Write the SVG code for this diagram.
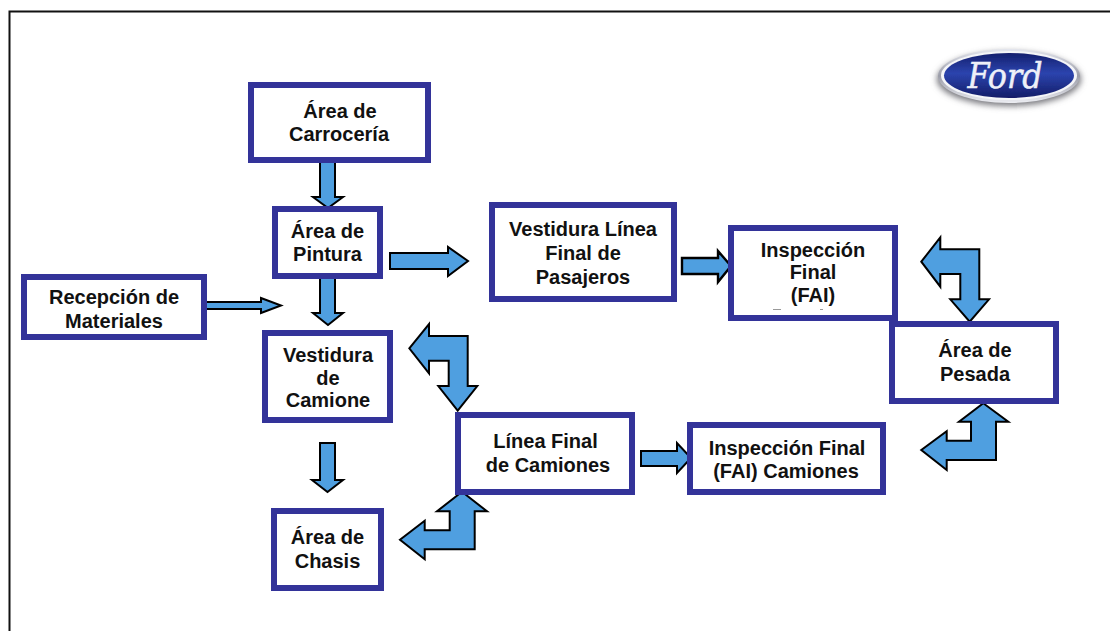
<svg xmlns="http://www.w3.org/2000/svg" width="1110" height="631" viewBox="0 0 1110 631">
<style>
.box{fill:#fff;stroke:#333399;stroke-width:6}
.lbl{font-family:"Liberation Sans",Arial,sans-serif;font-weight:700;font-size:20px;fill:#111;text-anchor:middle}
.arr{fill:#4F9FE0;stroke:#000;stroke-width:2;stroke-linejoin:miter}
.thick{stroke-width:2.4}
</style>
<defs>
<linearGradient id="blue" x1="0" y1="0" x2="0" y2="1"><stop offset="0" stop-color="#141f6e"/><stop offset="0.45" stop-color="#2c44ae"/><stop offset="1" stop-color="#131c68"/></linearGradient>
<linearGradient id="rim" x1="0" y1="0" x2="0" y2="1"><stop offset="0" stop-color="#e4e6ee"/><stop offset="0.5" stop-color="#9a9ca8"/><stop offset="1" stop-color="#ecedf2"/></linearGradient>
<filter id="soft" x="-20%" y="-40%" width="140%" height="180%"><feGaussianBlur stdDeviation="3"/></filter>
<filter id="soft1" x="-5%" y="-10%" width="110%" height="120%"><feGaussianBlur stdDeviation="0.6"/></filter>
</defs>
<rect width="1110" height="631" fill="#fff"/>
<path d="M9.500 631V11.500H1110" fill="none" stroke="#111" stroke-width="2"/>
<g id="logo">
<ellipse cx="1009" cy="79" rx="72" ry="27" fill="#77777d" filter="url(#soft)"/>
<ellipse cx="1009" cy="76" rx="71" ry="27" fill="url(#rim)" filter="url(#soft1)"/>
<ellipse cx="1009" cy="75.500" rx="68" ry="24.500" fill="#f4f5f8" filter="url(#soft1)"/>
<ellipse cx="1009" cy="75.500" rx="65" ry="22.500" fill="url(#blue)" filter="url(#soft1)"/>
<text x="1005" y="88" font-family="'DejaVu Serif',serif" font-style="italic" font-size="36" fill="#eef0f8" stroke="#eef0f8" stroke-width="0.5" text-anchor="middle" textLength="75" lengthAdjust="spacingAndGlyphs">Ford</text>
</g>
<g id="connectors">
<polygon class="arr" points="320,161 335,161 335,197 343,197 328,208 313,197 320,197"/>
<polygon class="arr" points="320,277 335,277 335,313 343,313 328,325 313,313 320,313"/>
<polygon class="arr" points="390,253 448,253 448,247 468,261 448,276 448,269 390,269"/>
<polygon class="arr" points="203,302 261,302 261,298 281,305.500 261,313 261,309 203,309"/>
<polygon class="arr thick" points="682,258 718,258 718,251 731,266 718,282 718,274 682,274"/>
<polygon class="arr" points="641,451 677,451 677,443 691,458 677,473 677,466 641,466"/>
<polygon class="arr" points="320,443 335,443 335,480 343,480 327.500,492 312,480 320,480"/>
<polygon class="arr" points="409.300,348.300 429,324 429,336 467.700,336 467.700,386 477.300,386 457.700,410.700 438.300,386 448.700,386 448.700,360.700 429,360.700 429,373.300"/>
<polygon class="arr" points="462,491.700 487,511.300 474.700,511.300 474.700,549.300 424.700,549.300 424.700,559.300 400,539.700 424.700,520.700 424.700,530.300 449.700,530.300 449.700,511.300 437,511.300"/>
<polygon class="arr" points="921.300,261.700 940.300,237.300 940.300,249.300 979.300,249.300 979.300,299.300 989,299.300 969.700,321.700 950.300,299.300 960.300,299.300 960.300,274 940.300,274 940.300,286.700"/>
<polygon class="arr" points="983.300,403.300 1008.300,421.700 996,421.700 996,460 946.700,460 946.700,470 921.300,450 946.700,431.300 946.700,440.700 971,440.700 971,421.700 959,421.700"/>
</g>
<g id="n-carroceria"><rect class="box" x="251" y="85" width="177" height="75"/><text class="lbl" x="340" y="118">Área de</text><text class="lbl" x="339" y="141">Carrocería</text></g>
<g id="n-pintura"><rect class="box" x="275" y="209" width="105" height="67"/><text class="lbl" x="327.500" y="238">Área de</text><text class="lbl" x="327.500" y="261">Pintura</text></g>
<g id="n-recepcion"><rect class="box" x="24" y="277" width="180" height="60"/><text class="lbl" x="114" y="304">Recepción de</text><text class="lbl" x="114" y="328">Materiales</text></g>
<g id="n-vestidura-camione"><rect class="box" x="265" y="333" width="125" height="87"/><text class="lbl" x="328" y="362">Vestidura</text><text class="lbl" x="328" y="385">de</text><text class="lbl" x="328" y="407">Camione</text></g>
<g id="n-vestidura-linea"><rect class="box" x="492" y="205" width="182" height="94"/><text class="lbl" x="583" y="236">Vestidura Línea</text><text class="lbl" x="583" y="260">Final de</text><text class="lbl" x="583" y="284">Pasajeros</text></g>
<g id="n-inspeccion-final"><rect class="box" x="731" y="228" width="164" height="90"/><text class="lbl" x="813" y="257">Inspección</text><text class="lbl" x="813" y="279">Final</text><text class="lbl" x="813" y="302">(FAI)</text><path d="M773 309.500H781M820 309.500H823" stroke="#999" stroke-width="1"/></g>
<g id="n-pesada"><rect class="box" x="892" y="324" width="164" height="77"/><text class="lbl" x="975" y="357">Área de</text><text class="lbl" x="975" y="381">Pesada</text></g>
<g id="n-linea-final"><rect class="box" x="458" y="415" width="174" height="77"/><text class="lbl" x="545.500" y="448">Línea Final</text><text class="lbl" x="548" y="472">de Camiones</text></g>
<g id="n-inspeccion-camiones"><rect class="box" x="690" y="425" width="193" height="67"/><text class="lbl" x="787" y="455">Inspección Final</text><text class="lbl" x="786" y="478">(FAI) Camiones</text></g>
<g id="n-chasis"><rect class="box" x="274" y="511" width="107" height="77"/><text class="lbl" x="327.500" y="544">Área de</text><text class="lbl" x="327.500" y="568">Chasis</text></g>
</svg>
